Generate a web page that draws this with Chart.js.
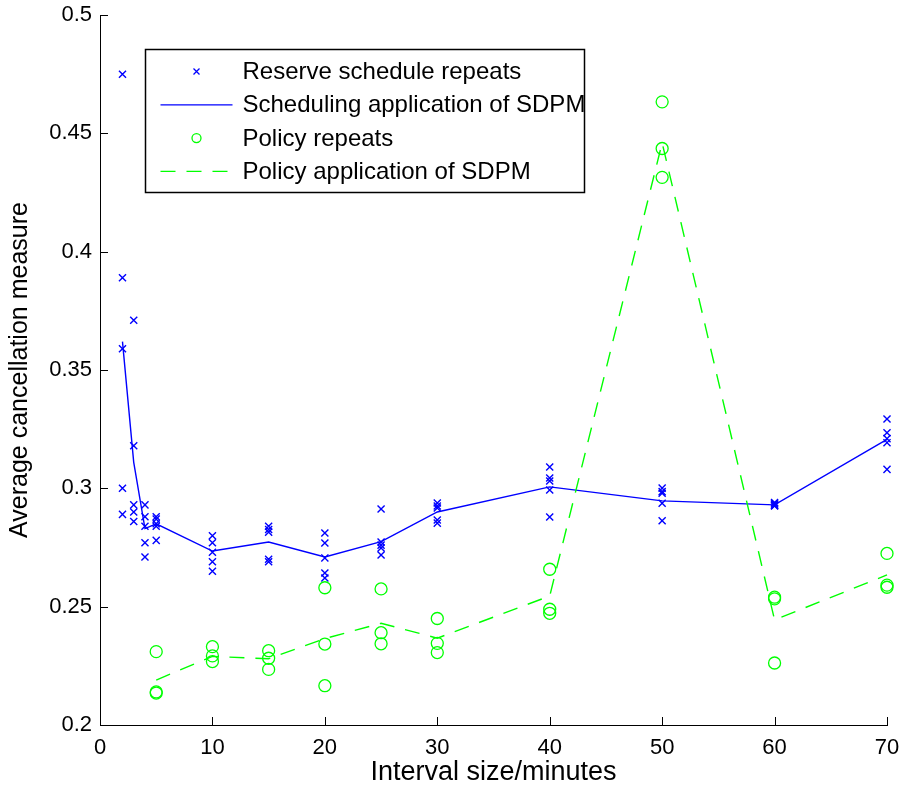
<!DOCTYPE html>
<html><head><meta charset="utf-8">
<script src="https://cdn.jsdelivr.net/npm/chart.js@4.4.1/dist/chart.umd.min.js"></script>
<style>html,body{margin:0;padding:0;background:#fff;} canvas{display:block;}</style>
</head><body>
<canvas id="c" width="906" height="789"></canvas>
<script>
// ---- data ----
const reserveIntervals = [2, 3, 4, 5, 10, 15, 20, 25, 30, 40, 50, 60, 70];
const reserveRepeats = [
  [0.475, 0.389, 0.359, 0.300, 0.289],
  [0.371, 0.318, 0.293, 0.290, 0.286],
  [0.293, 0.288, 0.284, 0.277, 0.271],
  [0.288, 0.287, 0.285, 0.284, 0.278],
  [0.280, 0.277, 0.273, 0.269, 0.265],
  [0.284, 0.2826, 0.2815, 0.270, 0.269],
  [0.2811, 0.2769, 0.2706, 0.2642, 0.2621],
  [0.2913, 0.2773, 0.276, 0.2748, 0.2718],
  [0.2938, 0.2925, 0.2917, 0.2866, 0.2853],
  [0.309, 0.3044, 0.3031, 0.2993, 0.2879],
  [0.3001, 0.2986, 0.2979, 0.2937, 0.2863],
  [0.2940, 0.2935, 0.2930, 0.2928, 0.2925],
  [0.3293, 0.3235, 0.3210, 0.3193, 0.3080]
];
const schedulingSDPM = [0.362, 0.311, 0.283, 0.285, 0.2735, 0.2773, 0.271, 0.2775, 0.290, 0.3006, 0.2947, 0.293, 0.3207];

const policyIntervals = [5, 10, 15, 20, 25, 30, 40, 50, 60, 70];
const policyRepeats = [
  [0.231, 0.214, 0.2135],
  [0.2331, 0.2292, 0.2268],
  [0.2314, 0.2282, 0.2235],
  [0.258, 0.2342, 0.2166],
  [0.2575, 0.239, 0.2343],
  [0.245, 0.2345, 0.2306],
  [0.2658, 0.2489, 0.2472],
  [0.4633, 0.4436, 0.4314],
  [0.254, 0.2533, 0.2262],
  [0.2725, 0.2591, 0.2582]
];
const policySDPM = [0.219, 0.229, 0.228, 0.2365, 0.243, 0.2367, 0.2545, 0.446, 0.2444, 0.2634];

const seriesLabels = ['Reserve schedule repeats', 'Scheduling application of SDPM', 'Policy repeats', 'Policy application of SDPM'];
const xTitle = 'Interval size/minutes';
const yTitle = 'Average cancellation measure';

// ---- helpers ----
const FONT = "'Liberation Sans', Arial, Helvetica, sans-serif";
const BLUE = '#0000ff', GREEN = '#00ff00';
function scatterPoints(xs, groups) {
  const pts = [];
  groups.forEach((g, i) => g.forEach(v => pts.push({x: xs[i], y: v})));
  return pts;
}
function linePoints(xs, ys) { return xs.map((x, i) => ({x, y: ys[i]})); }

const inwardTicks = {
  id: 'inwardTicks',
  afterDraw(chart) {
    const ctx = chart.ctx, ca = chart.chartArea;
    const xs = chart.scales.x, ys = chart.scales.y;
    ctx.save();
    ctx.strokeStyle = '#000'; ctx.lineWidth = 1;
    xs.ticks.forEach(t => {
      const px = Math.round(xs.getPixelForValue(t.value)) + 0.5;
      ctx.beginPath(); ctx.moveTo(px, ca.bottom); ctx.lineTo(px, ca.bottom - 8); ctx.stroke();
    });
    ys.ticks.forEach(t => {
      const py = Math.round(ys.getPixelForValue(t.value)) + 0.5;
      ctx.beginPath(); ctx.moveTo(ca.left, py); ctx.lineTo(ca.left + 8, py); ctx.stroke();
    });
    ctx.restore();
  }
};

const boxLegend = {
  id: 'boxLegend',
  afterDraw(chart) {
    const ctx = chart.ctx, ca = chart.chartArea;
    const bx = ca.left + 45.5, by = ca.top + 34.5, bw = 439, bh = 143;
    ctx.save();
    ctx.fillStyle = '#fff'; ctx.fillRect(bx, by, bw, bh);
    ctx.strokeStyle = '#000'; ctx.lineWidth = 1.5; ctx.strokeRect(bx, by, bw, bh);
    ctx.font = '24px ' + FONT; ctx.textBaseline = 'middle'; ctx.textAlign = 'left';
    chart.data.datasets.forEach((ds, i) => {
      const cy = by + 22 + i * 33.3;
      const x0 = bx + 15, x1 = bx + 87, xm = (x0 + x1) / 2;
      ctx.strokeStyle = ds.borderColor;
      if (ds.showLine) {
        ctx.lineWidth = 1.3;
        ctx.setLineDash(ds.borderDash || []);
        ctx.beginPath(); ctx.moveTo(x0, cy); ctx.lineTo(x1, cy); ctx.stroke();
        ctx.setLineDash([]);
      } else if (ds.pointStyle === 'crossRot') {
        ctx.lineWidth = 1.3; const r = 3;
        ctx.beginPath(); ctx.moveTo(xm - r, cy - r); ctx.lineTo(xm + r, cy + r);
        ctx.moveTo(xm - r, cy + r); ctx.lineTo(xm + r, cy - r); ctx.stroke();
      } else {
        ctx.lineWidth = 1.3;
        ctx.beginPath(); ctx.arc(xm, cy, 4.5, 0, Math.PI * 2); ctx.stroke();
      }
      ctx.fillStyle = '#000';
      ctx.fillText(ds.label, bx + 97, cy + 1);
    });
    ctx.restore();
  }
};

new Chart(document.getElementById('c'), {
  type: 'scatter',
  data: {
    datasets: [
      { label: seriesLabels[0], data: scatterPoints(reserveIntervals, reserveRepeats),
        pointStyle: 'crossRot', radius: 5, borderColor: BLUE, backgroundColor: BLUE,
        pointBorderWidth: 1.4, showLine: false, clip: false, order: 4 },
      { label: seriesLabels[1], data: linePoints(reserveIntervals, schedulingSDPM),
        showLine: true, borderColor: BLUE, borderWidth: 1.4, pointRadius: 0,
        tension: 0, clip: false, order: 3 },
      { label: seriesLabels[2], data: scatterPoints(policyIntervals, policyRepeats),
        pointStyle: 'circle', radius: 6, borderColor: GREEN, backgroundColor: 'rgba(0,0,0,0)',
        pointBorderWidth: 1.3, showLine: false, clip: false, order: 2 },
      { label: seriesLabels[3], data: linePoints(policyIntervals, policySDPM),
        showLine: true, borderColor: GREEN, borderWidth: 1.4, borderDash: [15, 11],
        pointRadius: 0, tension: 0, clip: false, order: 1 }
    ]
  },
  options: {
    responsive: false, animation: false, devicePixelRatio: 1,
    layout: { padding: { left: 0, top: 15, right: 19, bottom: 0 } },
    plugins: { legend: { display: false }, tooltip: { enabled: false } },
    scales: {
      x: {
        type: 'linear', min: 0, max: 70,
        ticks: { stepSize: 10, color: '#000', font: { family: FONT, size: 22 }, padding: 10, maxRotation: 0 },
        grid: { drawOnChartArea: false, drawTicks: false },
        border: { display: true, color: '#000', width: 1 },
        title: { display: true, text: xTitle, color: '#000', font: { family: FONT, size: 27 }, padding: { top: 0, bottom: 0 } },
        afterFit(s) { s.height = 64; s.paddingLeft = 0; s.paddingRight = 0; }
      },
      y: {
        type: 'linear', min: 0.2, max: 0.5,
        ticks: { stepSize: 0.05, color: '#000', font: { family: FONT, size: 22 }, padding: 8,
          callback: v => String(parseFloat(v.toFixed(2))) },
        grid: { drawOnChartArea: false, drawTicks: false },
        border: { display: true, color: '#000', width: 1 },
        title: { display: true, text: yTitle, color: '#000', font: { family: FONT, size: 25 }, padding: { top: 5, bottom: 0 } },
        afterFit(s) { s.width = 100; s.paddingTop = 0; s.paddingBottom = 0; }
      }
    }
  },
  plugins: [inwardTicks, boxLegend]
});
</script>
</body></html>
